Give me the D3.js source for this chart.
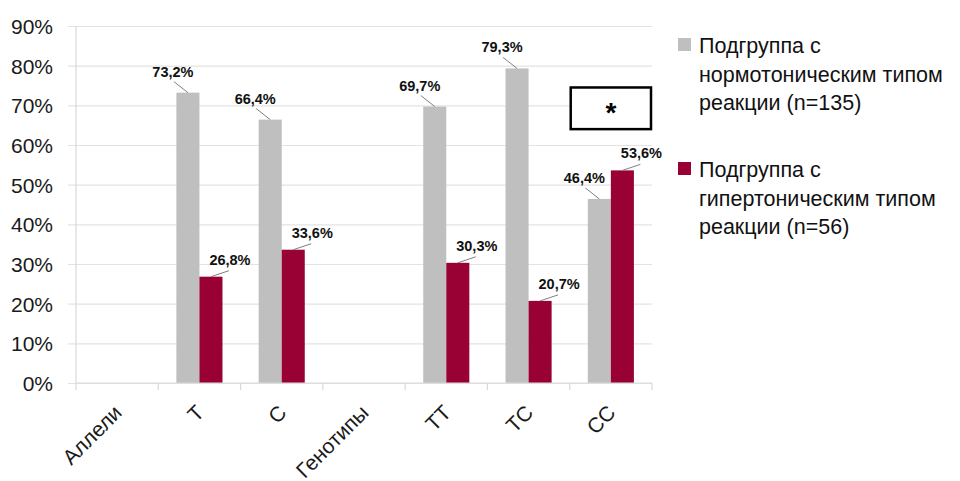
<!DOCTYPE html>
<html>
<head>
<meta charset="utf-8">
<script src="https://cdn.jsdelivr.net/npm/d3@7"></script>
<style>
  html, body { margin: 0; padding: 0; background: #fff; }
  svg { display: block; font-family: "Liberation Sans", Arial, sans-serif; }
</style>
</head>
<body>
<svg id="chart" width="960" height="481"></svg>
<script>
// Categories along the x axis (group headers have no bars)
const categories = ["Аллели", "T", "C", "Генотипы", "TT", "TC", "CC"];
// Share of each subgroup, percent
const normotonic = [null, 73.2, 66.4, null, 69.7, 79.3, 46.4];
const hypertonic = [null, 26.8, 33.6, null, 30.3, 20.7, 53.6];
const seriesNames = [
  ["Подгруппа с", "нормотоническим типом", "реакции (n=135)"],
  ["Подгруппа с", "гипертоническим типом", "реакции (n=56)"]
];
const yTicks = [0, 10, 20, 30, 40, 50, 60, 70, 80, 90];

const colors = ["#bfbfbf", "#990033"];
const svg = d3.select("#chart");

const margin = { left: 76, right: 308, top: 26, bottom: 98 };
const W = 960, H = 481;

const x = d3.scaleBand().domain(categories)
  .range([margin.left, W - margin.right]).paddingInner(0).paddingOuter(0);
const bw = x.bandwidth();
const xSub = d3.scaleBand().domain([0, 1]).range([bw * 0.22, bw * 0.78]).padding(0);
const y = d3.scaleLinear().domain([0, 90]).range([H - margin.bottom, margin.top]);

// Gridlines with short left ticks
const yAxis = d3.axisLeft(y).tickValues(yTicks)
  .tickSize(-(W - margin.right - margin.left))
  .tickSizeOuter(0)
  .tickFormat(d => d + "%");
const gy = svg.append("g").attr("transform", `translate(${margin.left},0)`).call(yAxis);
gy.select(".domain").remove();
gy.selectAll(".tick line").attr("stroke", "#e3e3e3").attr("stroke-width", 1.2)
  .attr("x1", -8);
gy.selectAll(".tick text").attr("x", -23).attr("dy", "0.36em")
  .attr("font-size", 21).attr("fill", "#1a1a1a");

// Left axis line
svg.append("line")
  .attr("x1", margin.left).attr("x2", margin.left)
  .attr("y1", y(90)).attr("y2", y(0))
  .attr("stroke", "#d9d9d9").attr("stroke-width", 1.2);

// Bars
const seriesData = [normotonic, hypertonic];
seriesData.forEach((vals, si) => {
  svg.append("g").selectAll("rect")
    .data(categories.map((c, i) => ({ c, v: vals[i] })).filter(d => d.v != null))
    .join("rect")
    .attr("x", d => x(d.c) + xSub(si))
    .attr("width", xSub.bandwidth())
    .attr("y", d => y(d.v))
    .attr("height", d => y(0) - y(d.v))
    .attr("fill", colors[si]);
});

// Bottom axis with category boundary ticks
const bottomY = y(0);
svg.append("line")
  .attr("x1", margin.left).attr("x2", W - margin.right)
  .attr("y1", bottomY).attr("y2", bottomY)
  .attr("stroke", "#d9d9d9").attr("stroke-width", 1.2);
const bounds = categories.map(c => x(c)).concat([W - margin.right]);
svg.append("g").selectAll("line").data(bounds).join("line")
  .attr("x1", d => d).attr("x2", d => d)
  .attr("y1", bottomY).attr("y2", bottomY + 7)
  .attr("stroke", "#d9d9d9").attr("stroke-width", 1.2);

// Rotated category labels
svg.append("g").selectAll("text").data(categories).join("text")
  .attr("transform", d => `translate(${x(d) + bw / 2 + 6},${bottomY + 31}) rotate(-45)`)
  .attr("text-anchor", "end")
  .attr("font-size", 21)
  .attr("fill", "#1a1a1a")
  .text(d => d);

// Value labels with leader lines
const fmt = v => v.toFixed(1).replace(".", ",") + "%";
const labelOffsets = [
  { lx: -14, ly: -11, tx: -15, ty: -16 },
  { lx: 18, ly: -6, tx: 19, ty: -12 }
];
seriesData.forEach((vals, si) => {
  const o = labelOffsets[si];
  const g = svg.append("g");
  categories.forEach((c, i) => {
    const v = vals[i];
    if (v == null) return;
    const cx = x(c) + xSub(si) + xSub.bandwidth() / 2;
    const top = y(v);
    g.append("line")
      .attr("x1", cx).attr("y1", top)
      .attr("x2", cx + o.lx).attr("y2", top + o.ly)
      .attr("stroke", "#7f7f7f").attr("stroke-width", 1);
    g.append("text")
      .attr("x", cx + o.tx).attr("y", top + o.ty)
      .attr("text-anchor", "middle")
      .attr("font-size", 14.5)
      .attr("font-weight", "bold")
      .attr("fill", "#111")
      .text(fmt(v));
  });
});

// Significance marker over the CC group
svg.append("rect")
  .attr("x", x("CC") + 1).attr("y", y(74.5))
  .attr("width", bw - 2).attr("height", y(64) - y(74.5))
  .attr("fill", "#fff").attr("stroke", "#000").attr("stroke-width", 2.5);
svg.append("text")
  .attr("x", x("CC") + bw / 2).attr("y", (y(74.5) + y(64)) / 2 + 14)
  .attr("text-anchor", "middle")
  .attr("font-size", 28).attr("font-weight", "bold")
  .text("*");

// Legend
const legendX = 678;
const legendTops = [38, 162];
seriesNames.forEach((lines, si) => {
  const g = svg.append("g");
  g.append("rect")
    .attr("x", legendX).attr("y", legendTops[si])
    .attr("width", 13).attr("height", 13)
    .attr("fill", colors[si]);
  lines.forEach((t, li) => {
    g.append("text")
      .attr("x", legendX + 21)
      .attr("y", legendTops[si] + 15 + li * 28.7)
      .attr("font-size", 21.5)
      .attr("fill", "#111")
      .text(t);
  });
});
</script>
</body>
</html>
